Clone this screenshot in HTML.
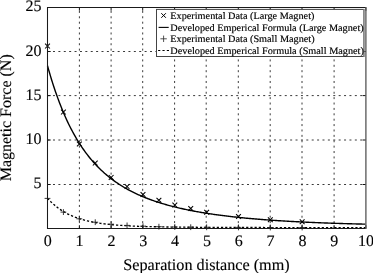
<!DOCTYPE html>
<html><head><meta charset="utf-8"><style>
html,body{margin:0;padding:0;background:#fff;overflow:hidden;}
svg{display:block;font-family:"Liberation Serif", serif;text-rendering:geometricPrecision;will-change:transform;filter:blur(0.3px);}
</style></head><body>
<svg width="373" height="273" viewBox="0 0 373 273">
<rect width="373" height="273" fill="#fff"/>
<g><line x1="79.4" y1="228.5" x2="79.4" y2="8" stroke="#3a3a3a" stroke-width="1" stroke-dasharray="2 3.39"/><line x1="111.1" y1="228.5" x2="111.1" y2="8" stroke="#3a3a3a" stroke-width="1" stroke-dasharray="2 3.39"/><line x1="142.7" y1="228.5" x2="142.7" y2="8" stroke="#3a3a3a" stroke-width="1" stroke-dasharray="2 3.39"/><line x1="174.6" y1="228.5" x2="174.6" y2="8" stroke="#3a3a3a" stroke-width="1" stroke-dasharray="2 3.39"/><line x1="206.2" y1="228.5" x2="206.2" y2="8" stroke="#3a3a3a" stroke-width="1" stroke-dasharray="2 3.39"/><line x1="238.3" y1="228.5" x2="238.3" y2="8" stroke="#3a3a3a" stroke-width="1" stroke-dasharray="2 3.39"/><line x1="270.2" y1="228.5" x2="270.2" y2="8" stroke="#3a3a3a" stroke-width="1" stroke-dasharray="2 3.39"/><line x1="302.0" y1="228.5" x2="302.0" y2="8" stroke="#3a3a3a" stroke-width="1" stroke-dasharray="2 3.39"/><line x1="334.1" y1="228.5" x2="334.1" y2="8" stroke="#3a3a3a" stroke-width="1" stroke-dasharray="2 3.39"/><line x1="47.6" y1="184.5" x2="365" y2="184.5" stroke="#3a3a3a" stroke-width="1" stroke-dasharray="2 3.39"/><line x1="47.6" y1="140.0" x2="365" y2="140.0" stroke="#3a3a3a" stroke-width="1" stroke-dasharray="2 3.39"/><line x1="47.6" y1="95.6" x2="365" y2="95.6" stroke="#3a3a3a" stroke-width="1" stroke-dasharray="2 3.39"/><line x1="47.6" y1="51.5" x2="365" y2="51.5" stroke="#3a3a3a" stroke-width="1" stroke-dasharray="2 3.39"/></g>
<g stroke="#111" stroke-width="1" fill="none"><line x1="47.5" y1="228.4" x2="47.5" y2="225.2"/><line x1="47.5" y1="7.5" x2="47.5" y2="10.7"/><line x1="79.4" y1="228.4" x2="79.4" y2="225.2"/><line x1="79.4" y1="7.5" x2="79.4" y2="10.7"/><line x1="111.1" y1="228.4" x2="111.1" y2="225.2"/><line x1="111.1" y1="7.5" x2="111.1" y2="10.7"/><line x1="142.7" y1="228.4" x2="142.7" y2="225.2"/><line x1="142.7" y1="7.5" x2="142.7" y2="10.7"/><line x1="174.6" y1="228.4" x2="174.6" y2="225.2"/><line x1="174.6" y1="7.5" x2="174.6" y2="10.7"/><line x1="206.2" y1="228.4" x2="206.2" y2="225.2"/><line x1="206.2" y1="7.5" x2="206.2" y2="10.7"/><line x1="238.3" y1="228.4" x2="238.3" y2="225.2"/><line x1="238.3" y1="7.5" x2="238.3" y2="10.7"/><line x1="270.2" y1="228.4" x2="270.2" y2="225.2"/><line x1="270.2" y1="7.5" x2="270.2" y2="10.7"/><line x1="302.0" y1="228.4" x2="302.0" y2="225.2"/><line x1="302.0" y1="7.5" x2="302.0" y2="10.7"/><line x1="334.1" y1="228.4" x2="334.1" y2="225.2"/><line x1="334.1" y1="7.5" x2="334.1" y2="10.7"/><line x1="365.9" y1="228.4" x2="365.9" y2="225.2"/><line x1="365.9" y1="7.5" x2="365.9" y2="10.7"/><line x1="47.5" y1="184.5" x2="50.7" y2="184.5"/><line x1="365.8" y1="184.5" x2="362.6" y2="184.5"/><line x1="47.5" y1="140.0" x2="50.7" y2="140.0"/><line x1="365.8" y1="140.0" x2="362.6" y2="140.0"/><line x1="47.5" y1="95.6" x2="50.7" y2="95.6"/><line x1="365.8" y1="95.6" x2="362.6" y2="95.6"/><line x1="47.5" y1="51.5" x2="50.7" y2="51.5"/><line x1="365.8" y1="51.5" x2="362.6" y2="51.5"/></g>
<path d="M47.5,65.77 L48.5,69.34 L49.5,72.80 L50.5,76.17 L51.5,79.45 L52.5,82.65 L53.5,85.76 L54.5,88.78 L55.5,91.73 L56.5,94.59 L57.5,97.38 L58.5,100.10 L59.5,102.75 L60.5,105.32 L61.5,107.83 L62.5,110.28 L63.5,112.66 L64.5,114.98 L65.5,117.24 L66.5,119.44 L67.5,121.59 L68.5,123.68 L69.5,125.72 L70.5,127.71 L71.5,129.65 L72.5,131.54 L73.5,133.38 L74.5,135.18 L75.5,136.93 L76.5,138.64 L77.5,140.31 L78.5,141.94 L79.5,143.53 L80.5,145.08 L81.5,146.59 L82.5,148.06 L83.5,149.51 L84.5,150.91 L85.5,152.29 L86.5,153.63 L87.5,154.94 L88.5,156.22 L89.5,157.47 L90.5,158.69 L91.5,159.88 L92.5,161.05 L93.5,162.19 L94.5,163.30 L95.5,164.39 L96.5,165.45 L97.5,166.49 L98.5,167.51 L99.5,168.51 L100.5,169.48 L101.5,170.43 L102.5,171.36 L103.5,172.27 L104.5,173.16 L105.5,174.04 L106.5,174.89 L107.5,175.73 L108.5,176.54 L109.5,177.34 L110.5,178.13 L111.5,178.90 L112.5,179.65 L113.5,180.39 L114.5,181.11 L115.5,181.81 L116.5,182.51 L117.5,183.19 L118.5,183.85 L119.5,184.50 L120.5,185.14 L121.5,185.77 L122.5,186.38 L123.5,186.98 L124.5,187.58 L125.5,188.15 L126.5,188.72 L127.5,189.28 L128.5,189.83 L129.5,190.36 L130.5,190.89 L131.5,191.41 L132.5,191.91 L133.5,192.41 L134.5,192.90 L135.5,193.38 L136.5,193.85 L137.5,194.31 L138.5,194.77 L139.5,195.21 L140.5,195.65 L141.5,196.08 L142.5,196.51 L143.5,196.92 L144.5,197.33 L145.5,197.73 L146.5,198.13 L147.5,198.51 L148.5,198.89 L149.5,199.27 L150.5,199.64 L151.5,200.00 L152.5,200.35 L153.5,200.70 L154.5,201.05 L155.5,201.39 L156.5,201.72 L157.5,202.05 L158.5,202.37 L159.5,202.69 L160.5,203.00 L161.5,203.31 L162.5,203.61 L163.5,203.91 L164.5,204.20 L165.5,204.49 L166.5,204.77 L167.5,205.05 L168.5,205.33 L169.5,205.60 L170.5,205.86 L171.5,206.13 L172.5,206.38 L173.5,206.64 L174.5,206.89 L175.5,207.14 L176.5,207.38 L177.5,207.62 L178.5,207.86 L179.5,208.09 L180.5,208.32 L181.5,208.54 L182.5,208.77 L183.5,208.99 L184.5,209.20 L185.5,209.42 L186.5,209.63 L187.5,209.83 L188.5,210.04 L189.5,210.24 L190.5,210.44 L191.5,210.63 L192.5,210.82 L193.5,211.01 L194.5,211.20 L195.5,211.39 L196.5,211.57 L197.5,211.75 L198.5,211.93 L199.5,212.10 L200.5,212.27 L201.5,212.44 L202.5,212.61 L203.5,212.78 L204.5,212.94 L205.5,213.10 L206.5,213.26 L207.5,213.42 L208.5,213.57 L209.5,213.72 L210.5,213.88 L211.5,214.02 L212.5,214.17 L213.5,214.32 L214.5,214.46 L215.5,214.60 L216.5,214.74 L217.5,214.88 L218.5,215.01 L219.5,215.14 L220.5,215.28 L221.5,215.41 L222.5,215.54 L223.5,215.66 L224.5,215.79 L225.5,215.91 L226.5,216.03 L227.5,216.15 L228.5,216.27 L229.5,216.39 L230.5,216.51 L231.5,216.62 L232.5,216.73 L233.5,216.85 L234.5,216.96 L235.5,217.07 L236.5,217.17 L237.5,217.28 L238.5,217.38 L239.5,217.49 L240.5,217.59 L241.5,217.69 L242.5,217.79 L243.5,217.89 L244.5,217.99 L245.5,218.08 L246.5,218.18 L247.5,218.27 L248.5,218.36 L249.5,218.46 L250.5,218.55 L251.5,218.63 L252.5,218.72 L253.5,218.81 L254.5,218.90 L255.5,218.98 L256.5,219.06 L257.5,219.15 L258.5,219.23 L259.5,219.31 L260.5,219.39 L261.5,219.47 L262.5,219.55 L263.5,219.62 L264.5,219.70 L265.5,219.78 L266.5,219.85 L267.5,219.92 L268.5,220.00 L269.5,220.07 L270.5,220.14 L271.5,220.21 L272.5,220.28 L273.5,220.35 L274.5,220.41 L275.5,220.48 L276.5,220.55 L277.5,220.61 L278.5,220.68 L279.5,220.74 L280.5,220.80 L281.5,220.86 L282.5,220.92 L283.5,220.99 L284.5,221.05 L285.5,221.10 L286.5,221.16 L287.5,221.22 L288.5,221.28 L289.5,221.33 L290.5,221.39 L291.5,221.45 L292.5,221.50 L293.5,221.55 L294.5,221.61 L295.5,221.66 L296.5,221.71 L297.5,221.76 L298.5,221.81 L299.5,221.86 L300.5,221.91 L301.5,221.96 L302.5,222.01 L303.5,222.06 L304.5,222.11 L305.5,222.15 L306.5,222.20 L307.5,222.24 L308.5,222.29 L309.5,222.33 L310.5,222.38 L311.5,222.42 L312.5,222.46 L313.5,222.51 L314.5,222.55 L315.5,222.59 L316.5,222.63 L317.5,222.67 L318.5,222.71 L319.5,222.75 L320.5,222.79 L321.5,222.83 L322.5,222.87 L323.5,222.91 L324.5,222.94 L325.5,222.98 L326.5,223.02 L327.5,223.05 L328.5,223.09 L329.5,223.12 L330.5,223.16 L331.5,223.19 L332.5,223.23 L333.5,223.26 L334.5,223.29 L335.5,223.33 L336.5,223.36 L337.5,223.39 L338.5,223.42 L339.5,223.45 L340.5,223.49 L341.5,223.52 L342.5,223.55 L343.5,223.58 L344.5,223.61 L345.5,223.64 L346.5,223.66 L347.5,223.69 L348.5,223.72 L349.5,223.75 L350.5,223.78 L351.5,223.80 L352.5,223.83 L353.5,223.86 L354.5,223.88 L355.5,223.91 L356.5,223.94 L357.5,223.96 L358.5,223.99 L359.5,224.01 L360.5,224.04 L361.5,224.06 L362.5,224.08 L363.5,224.11 L364.5,224.13 L365.5,224.15" fill="none" stroke="#000" stroke-width="1.4"/>
<path d="M47.5,198.23 L48.5,199.33 L49.5,200.39 L50.5,201.41 L51.5,202.39 L52.5,203.34 L53.5,204.24 L54.5,205.11 L55.5,205.95 L56.5,206.76 L57.5,207.53 L58.5,208.27 L59.5,208.99 L60.5,209.68 L61.5,210.34 L62.5,210.97 L63.5,211.58 L64.5,212.17 L65.5,212.74 L66.5,213.28 L67.5,213.80 L68.5,214.30 L69.5,214.79 L70.5,215.25 L71.5,215.70 L72.5,216.13 L73.5,216.54 L74.5,216.94 L75.5,217.32 L76.5,217.69 L77.5,218.04 L78.5,218.38 L79.5,218.71 L80.5,219.02 L81.5,219.33 L82.5,219.62 L83.5,219.90 L84.5,220.17 L85.5,220.43 L86.5,220.68 L87.5,220.92 L88.5,221.15 L89.5,221.37 L90.5,221.59 L91.5,221.79 L92.5,221.99 L93.5,222.18 L94.5,222.37 L95.5,222.55 L96.5,222.72 L97.5,222.88 L98.5,223.04 L99.5,223.19 L100.5,223.34 L101.5,223.48 L102.5,223.62 L103.5,223.75 L104.5,223.87 L105.5,224.00 L106.5,224.11 L107.5,224.23 L108.5,224.33 L109.5,224.44 L110.5,224.54 L111.5,224.64 L112.5,224.73 L113.5,224.82 L114.5,224.91 L115.5,225.00 L116.5,225.08 L117.5,225.16 L118.5,225.23 L119.5,225.30 L120.5,225.37 L121.5,225.44 L122.5,225.51 L123.5,225.57 L124.5,225.63 L125.5,225.69 L126.5,225.75 L127.5,225.80 L128.5,225.86 L129.5,225.91 L130.5,225.96 L131.5,226.00 L132.5,226.05 L133.5,226.09 L134.5,226.14 L135.5,226.18 L136.5,226.22 L137.5,226.26 L138.5,226.30 L139.5,226.33 L140.5,226.37 L141.5,226.40 L142.5,226.44 L143.5,226.47 L144.5,226.50 L145.5,226.53 L146.5,226.56 L147.5,226.58 L148.5,226.61 L149.5,226.64 L150.5,226.66 L151.5,226.69 L152.5,226.71 L153.5,226.73 L154.5,226.76 L155.5,226.78 L156.5,226.80 L157.5,226.82 L158.5,226.84 L159.5,226.86 L160.5,226.88 L161.5,226.90 L162.5,226.91 L163.5,226.93 L164.5,226.95 L165.5,226.96 L166.5,226.98 L167.5,226.99 L168.5,227.01 L169.5,227.02 L170.5,227.04 L171.5,227.05 L172.5,227.06 L173.5,227.08 L174.5,227.09 L175.5,227.10 L176.5,227.11 L177.5,227.12 L178.5,227.13 L179.5,227.15 L180.5,227.16 L181.5,227.17 L182.5,227.18 L183.5,227.19 L184.5,227.20 L185.5,227.20 L186.5,227.21 L187.5,227.22 L188.5,227.23 L189.5,227.24 L190.5,227.25 L191.5,227.26 L192.5,227.26 L193.5,227.27 L194.5,227.28 L195.5,227.29 L196.5,227.29 L197.5,227.30 L198.5,227.31 L199.5,227.31 L200.5,227.32 L201.5,227.33 L202.5,227.33 L203.5,227.34 L204.5,227.34 L205.5,227.35 L206.5,227.35 L207.5,227.36 L208.5,227.37 L209.5,227.37 L210.5,227.38 L211.5,227.38 L212.5,227.39 L213.5,227.39 L214.5,227.40 L215.5,227.40 L216.5,227.40 L217.5,227.41 L218.5,227.41 L219.5,227.42 L220.5,227.42 L221.5,227.43 L222.5,227.43 L223.5,227.43 L224.5,227.44 L225.5,227.44 L226.5,227.44 L227.5,227.45 L228.5,227.45 L229.5,227.46 L230.5,227.46 L231.5,227.46 L232.5,227.47 L233.5,227.47 L234.5,227.47 L235.5,227.48 L236.5,227.48 L237.5,227.48 L238.5,227.48 L239.5,227.49 L240.5,227.49 L241.5,227.49 L242.5,227.50 L243.5,227.50 L244.5,227.50 L245.5,227.50 L246.5,227.51 L247.5,227.51 L248.5,227.51 L249.5,227.51 L250.5,227.52 L251.5,227.52 L252.5,227.52 L253.5,227.52 L254.5,227.53 L255.5,227.53 L256.5,227.53 L257.5,227.53 L258.5,227.53 L259.5,227.54 L260.5,227.54 L261.5,227.54 L262.5,227.54 L263.5,227.54 L264.5,227.55 L265.5,227.55 L266.5,227.55 L267.5,227.55 L268.5,227.55 L269.5,227.56 L270.5,227.56 L271.5,227.56 L272.5,227.56 L273.5,227.56 L274.5,227.56 L275.5,227.57 L276.5,227.57 L277.5,227.57 L278.5,227.57 L279.5,227.57 L280.5,227.57 L281.5,227.57 L282.5,227.58 L283.5,227.58 L284.5,227.58 L285.5,227.58 L286.5,227.58 L287.5,227.58 L288.5,227.58 L289.5,227.59 L290.5,227.59 L291.5,227.59 L292.5,227.59 L293.5,227.59 L294.5,227.59 L295.5,227.59 L296.5,227.59 L297.5,227.60 L298.5,227.60 L299.5,227.60 L300.5,227.60 L301.5,227.60 L302.5,227.60 L303.5,227.60 L304.5,227.60 L305.5,227.60 L306.5,227.61 L307.5,227.61 L308.5,227.61 L309.5,227.61 L310.5,227.61 L311.5,227.61 L312.5,227.61 L313.5,227.61 L314.5,227.61 L315.5,227.61 L316.5,227.62 L317.5,227.62 L318.5,227.62 L319.5,227.62 L320.5,227.62 L321.5,227.62 L322.5,227.62 L323.5,227.62 L324.5,227.62 L325.5,227.62 L326.5,227.62 L327.5,227.62 L328.5,227.63 L329.5,227.63 L330.5,227.63 L331.5,227.63 L332.5,227.63 L333.5,227.63 L334.5,227.63 L335.5,227.63 L336.5,227.63 L337.5,227.63 L338.5,227.63 L339.5,227.63 L340.5,227.63 L341.5,227.63 L342.5,227.64 L343.5,227.64 L344.5,227.64 L345.5,227.64 L346.5,227.64 L347.5,227.64 L348.5,227.64 L349.5,227.64 L350.5,227.64 L351.5,227.64 L352.5,227.64 L353.5,227.64 L354.5,227.64 L355.5,227.64 L356.5,227.64 L357.5,227.64 L358.5,227.64 L359.5,227.64 L360.5,227.65 L361.5,227.65 L362.5,227.65 L363.5,227.65 L364.5,227.65 L365.5,227.65" fill="none" stroke="#000" stroke-width="1.35" stroke-dasharray="2.2 2"/>
<g stroke="#000" stroke-width="1.05" fill="none"><path d="M45.10,43.70 L49.90,48.50 M45.10,48.50 L49.90,43.70"/><path d="M61.02,109.70 L65.81,114.50 M61.02,114.50 L65.81,109.70"/><path d="M76.93,141.60 L81.73,146.40 M76.93,146.40 L81.73,141.60"/><path d="M92.84,160.70 L97.65,165.50 M92.84,165.50 L97.65,160.70"/><path d="M108.76,175.00 L113.56,179.80 M108.76,179.80 L113.56,175.00"/><path d="M124.67,184.20 L129.47,189.00 M124.67,189.00 L129.47,184.20"/><path d="M140.59,192.10 L145.39,196.90 M140.59,196.90 L145.39,192.10"/><path d="M156.50,197.80 L161.31,202.60 M156.50,202.60 L161.31,197.80"/><path d="M172.42,202.70 L177.22,207.50 M172.42,207.50 L177.22,202.70"/><path d="M188.33,206.10 L193.13,210.90 M188.33,210.90 L193.13,206.10"/><path d="M204.25,209.80 L209.05,214.60 M204.25,214.60 L209.05,209.80"/><path d="M236.08,214.10 L240.88,218.90 M236.08,218.90 L240.88,214.10"/><path d="M267.91,217.30 L272.71,222.10 M267.91,222.10 L272.71,217.30"/><path d="M299.74,219.40 L304.54,224.20 M299.74,224.20 L304.54,219.40"/></g><g stroke="#222" stroke-width="0.9" fill="none"><path d="M44.60,198.40 L50.40,198.40 M47.50,195.50 L47.50,201.30"/><path d="M60.52,212.10 L66.31,212.10 M63.41,209.20 L63.41,215.00"/><path d="M76.43,218.80 L82.23,218.80 M79.33,215.90 L79.33,221.70"/><path d="M92.34,222.20 L98.15,222.20 M95.25,219.30 L95.25,225.10"/><path d="M108.26,224.20 L114.06,224.20 M111.16,221.30 L111.16,227.10"/><path d="M124.17,225.40 L129.97,225.40 M127.07,222.50 L127.07,228.30"/><path d="M140.09,226.20 L145.89,226.20 M142.99,223.30 L142.99,229.10"/><path d="M156.00,226.70 L161.81,226.70 M158.91,223.80 L158.91,229.60"/><path d="M171.92,227.00 L177.72,227.00 M174.82,224.10 L174.82,229.90"/><path d="M187.83,227.20 L193.63,227.20 M190.73,224.30 L190.73,230.10"/><path d="M203.75,227.30 L209.55,227.30 M206.65,224.40 L206.65,230.20"/><path d="M235.58,227.40 L241.38,227.40 M238.48,224.50 L238.48,230.30"/><path d="M267.41,227.50 L273.21,227.50 M270.31,224.60 L270.31,230.40"/><path d="M299.24,227.50 L305.04,227.50 M302.14,224.60 L302.14,230.40"/></g>
<path d="M47.5,7.5 H365.9 M47.5,228.5 H365.9 M47.5,7 V229" fill="none" stroke="#1a1a1a" stroke-width="1.05"/><path d="M365.9,7 V229" stroke="#555" stroke-width="1.3"/>

<rect x="156.5" y="9.4" width="207.4" height="47.1" fill="#fff" stroke="#444" stroke-width="1"/><path d="M363.9,9 V57" stroke="#888" stroke-width="1.2"/>
<g font-size="10.25" stroke="#000" stroke-width="0.16">
<text transform="translate(170.3,18.9) scale(1,0.97)">Experimental Data (Large Magnet)</text>
<text transform="translate(170.3,30.7) scale(1,0.97)">Developed Emperical Formula (Large Magnet)</text>
<text transform="translate(170.3,42.2) scale(1,0.97)">Experimental Data (Small Magnet)</text>
<text transform="translate(170.3,53.6) scale(1,0.97)">Developed Emperical Formula (Small Magnet)</text>
</g>
<g stroke="#000" fill="none" stroke-width="1">
<path d="M161.30,13.20 L165.90,17.80 M161.30,17.80 L165.90,13.20"/>
<line x1="158.6" y1="27.4" x2="168.7" y2="27.4" stroke-width="1.1"/>
<g stroke="#333" stroke-width="0.85"><path d="M160.40,38.80 L166.80,38.80 M163.60,35.60 L163.60,42.00"/></g>
<line x1="158.1" y1="50.5" x2="169.0" y2="50.5" stroke-dasharray="2.2 2.15"/>
</g>

<g font-family="Liberation Serif" font-size="16" fill="#000">
<g stroke="#000" stroke-width="0.14">
<text x="47.8" y="246" text-anchor="middle">0</text><text x="79.6" y="246" text-anchor="middle">1</text><text x="111.5" y="246" text-anchor="middle">2</text><text x="143.3" y="246" text-anchor="middle">3</text><text x="175.1" y="246" text-anchor="middle">4</text><text x="206.9" y="246" text-anchor="middle">5</text><text x="238.8" y="246" text-anchor="middle">6</text><text x="270.6" y="246" text-anchor="middle">7</text><text x="302.4" y="246" text-anchor="middle">8</text><text x="334.3" y="246" text-anchor="middle">9</text><text x="366.1" y="246" text-anchor="middle">10</text>
<text x="41.5" y="187.80" text-anchor="end">5</text><text x="41.5" y="144.05" text-anchor="end">10</text><text x="41.5" y="99.55" text-anchor="end">15</text><text x="41.5" y="55.70" text-anchor="end">20</text><text x="41.5" y="11.20" text-anchor="end">25</text>
</g>
<text x="206.5" y="269.7" text-anchor="middle" font-size="16.2" stroke="#000" stroke-width="0.12">Separation distance (mm)</text>
<text transform="translate(11.4,117.8) rotate(-90)" text-anchor="middle" font-size="16" stroke="#000" stroke-width="0.12">Magnetic Force (N)</text>
</g>
</svg>
</body></html>
